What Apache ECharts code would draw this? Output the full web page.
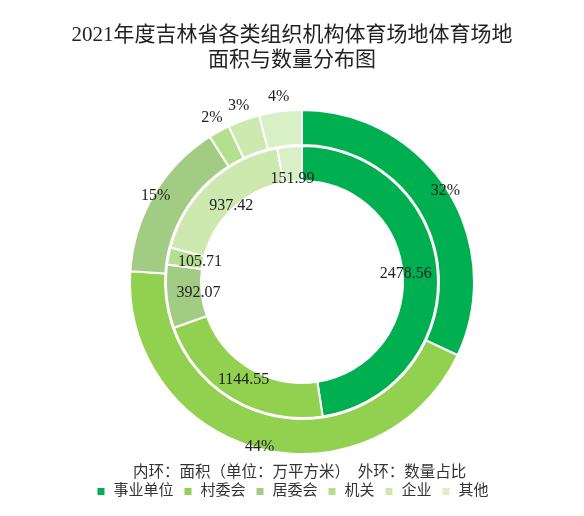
<!DOCTYPE html>
<html>
<head>
<meta charset="utf-8">
<script src="https://cdn.jsdelivr.net/npm/echarts@6/dist/echarts.min.js"></script>
<style>
  html, body { margin: 0; padding: 0; background: #fff; }
  #chart { width: 584px; height: 516px; }
</style>
</head>
<body>
<div id="chart"></div>
<script>
// 分类与数据
let categories = ['事业单位', '村委会', '居委会', '机关', '企业', '其他'];
let areaValues = [2478.56, 1144.55, 392.07, 105.71, 937.42, 151.99];   // 内环：面积（万平方米）
let countShares = [32, 44, 15, 2, 3, 4];                                // 外环：数量占比 %
let colorList = ['#00B050', '#92D050', '#A2CC84', '#B4DF8E', '#CDE9B0', '#D9EFC5'];

let font = '"Liberation Serif", "Noto Sans CJK SC", serif';
let cx = 302, cy = 282;

// 标签放在扇区中线方向上（按数据累计算角度）
function midAngles(values) {
  let total = values.reduce((a, b) => a + b, 0);
  let acc = 0;
  return values.map((v) => {
    let mid = (acc + v / 2) / total * Math.PI * 2;
    acc += v;
    return mid;
  });
}
let innerMid = midAngles(areaValues);
let outerMid = midAngles(countShares);

function placeAt(angle, r) {
  return {
    x: cx + r * Math.sin(angle),
    y: cy - r * Math.cos(angle),
    align: 'center',
    verticalAlign: 'middle'
  };
}

let chart = echarts.init(document.getElementById('chart'));

chart.setOption({
  color: colorList,
  animation: false,
  title: [{
    text: '2021年度吉林省各类组织机构体育场地体育场地\n面积与数量分布图',
    left: 'center',
    top: 18,
    padding: [5, 0, 5, 14],
    textStyle: {
      fontFamily: font,
      fontSize: 21,
      fontWeight: 'normal',
      color: '#222',
      lineHeight: 25
    }
  }, {
    text: '内环：面积（单位：万平方米）\u3000外环：数量占比',
    left: 128,
    top: 460,
    textStyle: {
      fontFamily: font,
      fontSize: 15.5,
      fontWeight: 'normal',
      color: '#333'
    }
  }],
  legend: {
    data: categories,
    bottom: 12,
    left: 'center',
    icon: 'rect',
    itemWidth: 9,
    itemHeight: 9,
    itemGap: 9,
    textStyle: {
      fontFamily: font,
      fontSize: 15,
      color: '#333',
      padding: [0, 0, 0, 3]
    }
  },
  series: [
    {
      name: '面积',
      type: 'pie',
      center: [cx, cy],
      radius: [101, 136],
      startAngle: 90,
      clockwise: true,
      itemStyle: {borderColor: '#fff', borderWidth: 2},
      label: {
        show: true,
        position: 'inside',
        fontFamily: font,
        fontSize: 16,
        color: '#222',
        formatter: (p) => p.value.toFixed(2)
      },
      labelLine: {show: false},
      labelLayout: (params) => placeAt(innerMid[params.dataIndex], params.dataIndex === 1 ? 114 : 104),
      data: categories.map((name, i) => ({name: name, value: areaValues[i]}))
    },
    {
      name: '数量占比',
      type: 'pie',
      center: [cx, cy],
      radius: [137, 172],
      startAngle: 90,
      clockwise: true,
      itemStyle: {borderColor: '#fff', borderWidth: 2},
      label: {
        show: true,
        position: 'inside',
        fontFamily: font,
        fontSize: 16,
        color: '#222',
        formatter: '{c}%'
      },
      labelLine: {show: false},
      labelLayout: (params) => placeAt(outerMid[params.dataIndex], countShares[params.dataIndex] >= 10 ? 170 : 187),
      data: categories.map((name, i) => ({name: name, value: countShares[i]}))
    }
  ]
});
</script>
</body>
</html>
